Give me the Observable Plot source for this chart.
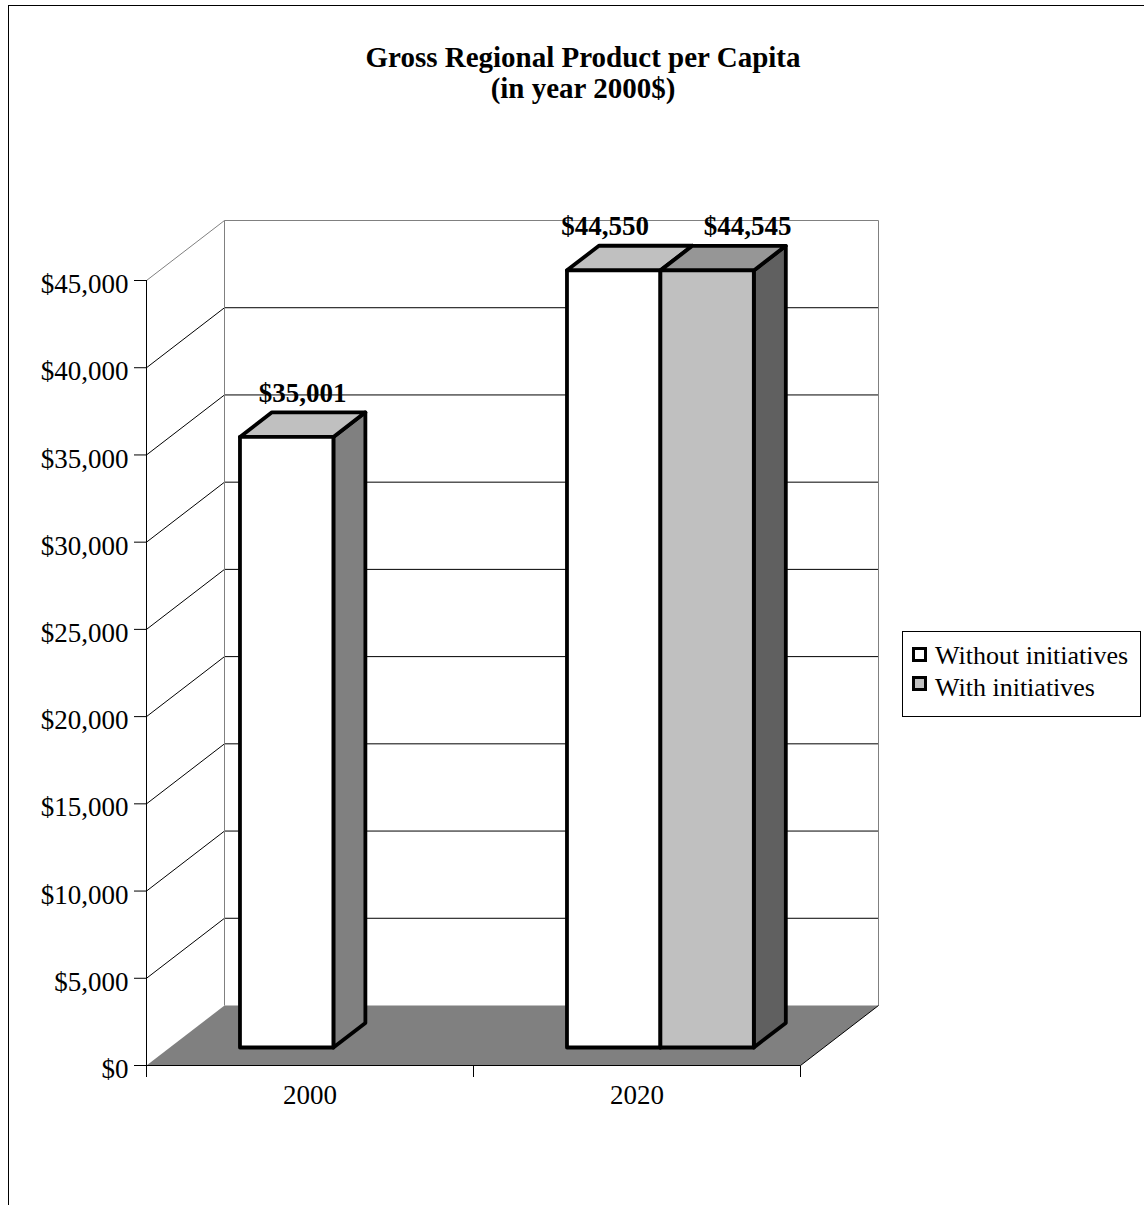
<!DOCTYPE html>
<html>
<head>
<meta charset="utf-8">
<script src="https://cdn.jsdelivr.net/npm/d3@7"></script>
<script src="https://cdn.jsdelivr.net/npm/@observablehq/plot@0.6"></script>
<style>
  html, body { margin: 0; padding: 0; width: 1144px; height: 1205px; overflow: hidden; background: #fff;
    font-family: "Liberation Serif", "Times New Roman", serif; color: #000; }
  #frame { position: absolute; left: 8px; top: 5px; width: 1400px; height: 1400px; border: 1px solid #000; box-sizing: border-box; }
  #title { position: absolute; left: 0; width: 1166px; top: 42px; text-align: center; font-weight: bold;
    font-size: 29px; line-height: 31px; }
  #chart { position: absolute; left: 0; top: 130px; }
  #legend { position: absolute; left: 902px; top: 631px; width: 239px; height: 86px; border: 1px solid #000;
    box-sizing: border-box; background: #fff; }
  .sw { position: absolute; left: 9px; width: 15px; height: 15px; border: 3px solid #000; box-sizing: border-box; }
  .lt { position: absolute; left: 32px; font-size: 26px; line-height: 30px; white-space: nowrap; }
</style>
</head>
<body>
<div id="frame"></div>
<div id="title">Gross Regional Product per Capita<br>(in year 2000$)</div>
<div id="chart"></div>
<div id="legend"></div>
<script>
// ---------- data ----------
const categories = ["2000", "2020"];
const seriesNames = ["Without initiatives", "With initiatives"];
const withoutInitiatives = [35001, 44550];
const withInitiatives = [null, 44545];
const yTicks = [0, 5000, 10000, 15000, 20000, 25000, 30000, 35000, 40000, 45000];

// ---------- styles ----------
const frontFill = ["#ffffff", "#c0c0c0"];
const topFill = ["#c0c0c0", "#969696"];
const sideFill = ["#808080", "#606060"];

// ---------- layout ----------
const W = 1144, H = 1000, ML = 146, MR = 344, MT = 150, MB = 65;
const Y_MAX = yTicks[yTicks.length - 1];
const nC = categories.length;
const pxX = (W - ML - MR) / nC;          // pixels per category unit
const pxY = (H - MT - MB) / Y_MAX;        // pixels per value unit
const DX = 78 / pxX, DY = 60 / pxY;       // 3-D depth expressed in scale units
const F0 = 0.3, F1 = 0.71, GAP = 1.5;
const series = [withoutInitiatives, withInitiatives];
const nS = series.length;
const bw = 1 / (nS + GAP);
const fmt = d3.format(",");

const faces = [], labels = [];
categories.forEach((cat, i) => {
  const start = i + 0.5 - nS * bw / 2;
  const present = series.filter(s => s[i] != null).length;
  let k = 0;
  series.forEach((s, j) => {
    const v = s[i];
    if (v == null) return;
    const x0 = start + j * bw, x1 = x0 + bw;
    const P = (x, y, f) => ({x: x + f * DX, y: y + f * DY});
    const add = (id, fill, pts) => { pts.push(pts[0]); pts.forEach(p => faces.push({id, fill, ...p})); };
    add(`${cat}-${j}-side`, sideFill[j], [P(x1, 0, F0), P(x1, 0, F1), P(x1, v, F1), P(x1, v, F0)]);
    add(`${cat}-${j}-top`, topFill[j], [P(x0, v, F0), P(x1, v, F0), P(x1, v, F1), P(x0, v, F1)]);
    add(`${cat}-${j}-front`, frontFill[j], [P(x0, 0, F0), P(x1, 0, F0), P(x1, v, F0), P(x0, v, F0)]);
    const spread = (k - (present - 1) / 2) * 49 / pxX; k++;
    labels.push({x: (x0 + x1) / 2 + (F0 + F1) / 2 * DX + spread, y: v + F1 * DY, text: "$" + fmt(v)});
  });
});

const floor = [{x: 0, y: 0}, {x: nC, y: 0}, {x: nC + DX, y: DY}, {x: DX, y: DY}, {x: 0, y: 0}];
const inner = yTicks.slice(1, -1);

const chart = Plot.plot({
  width: W, height: H,
  marginLeft: ML, marginRight: MR, marginTop: MT, marginBottom: MB,
  x: {domain: [0, nC], ticks: d3.range(nC + 1), tickSize: 12, tickFormat: () => "", label: null},
  y: {domain: [0, Y_MAX], ticks: yTicks, tickSize: 12, tickFormat: () => "", label: null},
  color: {type: "identity"},
  style: {fontFamily: "Liberation Serif, Times New Roman, serif", fontSize: "27px", color: "#000",
    background: "transparent", overflow: "visible"},
  marks: [
    // side wall diagonals
    Plot.link(inner, {x1: 0, y1: d => d, x2: DX, y2: d => d + DY, stroke: "#000"}),
    Plot.link([Y_MAX], {x1: 0, y1: d => d, x2: DX, y2: d => d + DY, stroke: "#808080"}),
    // back wall gridlines
    Plot.link(inner, {x1: DX, x2: nC + DX, y1: d => d + DY, y2: d => d + DY, stroke: "#000"}),
    Plot.link([Y_MAX], {x1: DX, x2: nC + DX, y1: d => d + DY, y2: d => d + DY, stroke: "#808080"}),
    // back wall edges
    Plot.link([0], {x1: DX, x2: DX, y1: DY, y2: Y_MAX + DY, stroke: "#808080"}),
    Plot.link([0], {x1: nC + DX, x2: nC + DX, y1: DY, y2: Y_MAX + DY, stroke: "#808080"}),
    // floor
    Plot.line(floor, {x: "x", y: "y", fill: "#808080", stroke: "none"}),
    Plot.link([0], {x1: nC, y1: 0, x2: nC + DX, y2: DY, stroke: "#000"}),
    // front axes lines
    Plot.ruleX([0], {y1: 0, y2: Y_MAX, stroke: "#000"}),
    Plot.ruleY([0], {stroke: "#000"}),
    // bars
    Plot.line(faces, {x: "x", y: "y", z: "id", fill: "fill", stroke: "#000", strokeWidth: 3.8,
      strokeLinejoin: "round", strokeLinecap: "round"}),
    // value labels
    Plot.text(labels, {x: "x", y: "y", text: "text", dy: -19, fontWeight: "bold", fontSize: 27}),
    // y tick labels
    Plot.text(yTicks, {y: d => d, frameAnchor: "left", dx: -18, dy: 4, textAnchor: "end",
      text: d => "$" + fmt(d), fontSize: 27}),
    // category labels
    Plot.text(categories, {x: (d, i) => i + 0.5, frameAnchor: "bottom", dy: 38, text: d => d, fontSize: 27})
  ]
});
document.getElementById("chart").appendChild(chart);

// legend
const legend = document.getElementById("legend");
seriesNames.forEach((name, j) => {
  const sw = document.createElement("div");
  sw.className = "sw";
  sw.style.top = (15 + j * 29) + "px";
  sw.style.background = frontFill[j];
  legend.appendChild(sw);
  const t = document.createElement("div");
  t.className = "lt";
  t.style.top = (9 + j * 32) + "px";
  t.textContent = name;
  legend.appendChild(t);
});
</script>
</body>
</html>
